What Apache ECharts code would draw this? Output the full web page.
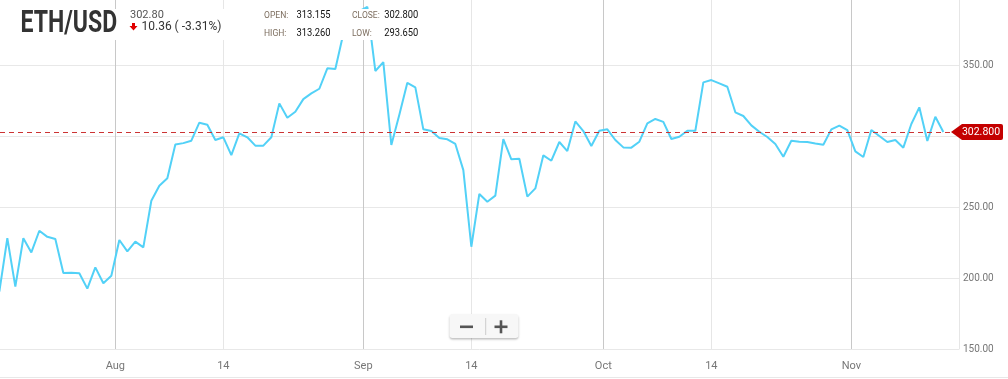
<!DOCTYPE html>
<html>
<head>
<meta charset="utf-8">
<title>ETH/USD</title>
<script src="https://cdn.jsdelivr.net/npm/echarts@6/dist/echarts.min.js"></script>
<style>
    html, body { margin: 0; padding: 0; background: #fff; }
    #myChart { width: 1008px; height: 379px; }
</style>
</head>
<body>
<div id="myChart"></div>
<script>
var DAY = 24 * 3600 * 1000;

// daily closes, first one is 2017-07-17
var firstDay = Date.UTC(2017, 6, 17, 12);
var closes = [
    190.4, 228, 193.9, 228, 218, 233.3, 229, 227.5, 203.5, 203.7,
    203.3, 192.5, 207.5, 196.3, 201.6, 226.8, 218.8, 225.6, 221.6, 254.4,
    265, 270.2, 294, 295, 296.7, 309.4, 308, 297.2, 299.1, 286.6,
    301.9, 299.1, 293.2, 293.2, 299.1, 323, 312.9, 317.1, 326, 330,
    333.3, 347.7, 347.2, 372, 383, 388, 391, 345.8, 352, 293.7,
    315, 337.5, 334.3, 304.7, 303.5, 298.6, 297.7, 294.4, 276, 222,
    259.2, 253.7, 258, 297.8, 283.6, 284, 257.3, 263.1, 286.4, 282.6,
    295.8, 289.4, 310.3, 303.5, 293, 303.7, 304.7, 297.2, 292, 291.8,
    296, 308.9, 312, 310, 297.9, 299.5, 303.7, 303.7, 337.8, 339.4,
    337.1, 334.7, 316.7, 314.1, 307.5, 303, 299.3, 294.4, 285.4, 296.7,
    296, 295.8, 294.8, 293.9, 304.7, 307.3, 304.2, 289.2, 285.2, 304.2,
    300, 295.8, 297.2, 291.8, 308.5, 320.2, 296.5, 313.6, 302.8
];

// x ticks: month starts and the 14ths
var xTicks = [
    Date.UTC(2017, 7, 1), Date.UTC(2017, 7, 14, 12),
    Date.UTC(2017, 8, 1), Date.UTC(2017, 8, 14, 12),
    Date.UTC(2017, 9, 1), Date.UTC(2017, 9, 14, 12),
    Date.UTC(2017, 10, 1)
];
var monthNames = ['Jan', 'Feb', 'Mar', 'Apr', 'May', 'Jun', 'Jul', 'Aug', 'Sep', 'Oct', 'Nov', 'Dec'];
var xMin = Date.UTC(2017, 6, 17, 14);
var xMax = Date.UTC(2017, 10, 14, 11);

var yLabels = [150, 200, 250, 350];
var lastPrice = 302.8;

var quoteLast = '302.80';
var quoteChange = '10.36 ( -3.31%)';
var ohlcNames = ['OPEN:', 'HIGH:', 'CLOSE:', 'LOW:'];
var ohlcValues = ['313.155', '313.260', '302.800', '293.650'];

var seriesData = [];
for (var i = 0; i < closes.length; i++) {
    seriesData.push([firstDay + i * DAY, closes[i]]);
}

function txt(x, y, text, size, color, weight, sx) {
    return {
        type: 'text', x: x, y: y, scaleX: sx || 1, z: 110,
        style: {
            text: text, fontSize: size, fontFamily: 'Roboto', fontWeight: weight || 'normal',
            fill: color, align: 'left', verticalAlign: 'middle',
            textAlign: 'left', textVerticalAlign: 'middle'
        }
    };
}

var header = [
    // white panel behind the header texts
    { type: 'rect', z: 100, shape: { x: 0, y: 9, width: 458, height: 31 }, style: { fill: '#fff' } },
    txt(20.5, 24, 'ETH/USD', 32, '#333', 'bold', 0.72),
    txt(130, 15, quoteLast, 11, '#555'),
    {
        type: 'polygon', z: 110,
        shape: { points: [[132, 23], [135, 23], [135, 26], [137.5, 26], [133.5, 30.5], [129.5, 26], [132, 26]] },
        style: { fill: '#e00000' }
    },
    txt(141.5, 26.5, quoteChange, 12, '#333'),
    txt(264, 16, ohlcNames[0], 9.5, '#7d6e5f', 'normal', 0.9),
    txt(296.5, 15.5, ohlcValues[0], 11, '#111', 'normal', 0.85),
    txt(264, 33.5, ohlcNames[1], 9.5, '#7d6e5f', 'normal', 0.9),
    txt(296.5, 33, ohlcValues[1], 11, '#111', 'normal', 0.85),
    txt(352, 16, ohlcNames[2], 9.5, '#7d6e5f', 'normal', 0.9),
    txt(384.3, 15.5, ohlcValues[2], 11, '#111', 'normal', 0.85),
    txt(352, 33.5, ohlcNames[3], 9.5, '#7d6e5f', 'normal', 0.9),
    txt(384.3, 33, ohlcValues[3], 11, '#111', 'normal', 0.85),

    // zoom buttons
    {
        type: 'rect', z: 100,
        shape: { x: 449.5, y: 314, width: 69, height: 24, r: 3 },
        style: { fill: '#f7f7f7', shadowBlur: 2, shadowOffsetY: 1.5, shadowColor: 'rgba(0,0,0,0.25)' }
    },
    { type: 'rect', z: 110, shape: { x: 460, y: 325.5, width: 13, height: 2.6 }, style: { fill: '#555' } },
    { type: 'line', z: 110, shape: { x1: 485.7, y1: 318, x2: 485.7, y2: 335 }, style: { stroke: '#ccc', lineWidth: 1 } },
    { type: 'rect', z: 110, shape: { x: 494.5, y: 325.5, width: 13, height: 2.6 }, style: { fill: '#555' } },
    { type: 'rect', z: 110, shape: { x: 499.7, y: 320.3, width: 2.6, height: 13 }, style: { fill: '#555' } },

    { type: 'line', z: 90, shape: { x1: 0, y1: 377.5, x2: 1008, y2: 377.5 }, style: { stroke: '#e8e8e8', lineWidth: 1 } }
];

var myChart = echarts.init(document.getElementById('myChart'));

var option = {
    animation: false,
    grid: { left: 0, right: 49, top: 0, bottom: 30, outerBoundsMode: 'none' },
    xAxis: {
        type: 'value',
        min: xMin,
        max: xMax,
        axisLine: { show: false },
        axisTick: { show: false, customValues: xTicks },
        axisLabel: {
            customValues: xTicks,
            color: '#777',
            fontSize: 11,
            fontFamily: 'Roboto',
            margin: 12,
            formatter: function (v) {
                var d = new Date(v);
                return d.getUTCDate() === 1 ? monthNames[d.getUTCMonth()] : String(d.getUTCDate());
            }
        },
        splitLine: {
            show: true,
            lineStyle: { color: ['#c8c8c8', '#e6e6e6'], width: 1 }
        }
    },
    yAxis: {
        type: 'value',
        position: 'right',
        min: 150,
        max: 395.8,
        interval: 50,
        axisLine: { show: true, lineStyle: { color: '#e6e6e6' } },
        axisTick: { show: false },
        axisLabel: {
            color: '#777',
            fontSize: 10,
            fontFamily: 'Roboto',
            margin: 4,
            formatter: function (v) {
                return yLabels.indexOf(v) >= 0 ? v.toFixed(2) : '';
            }
        },
        splitLine: { show: true, showMaxLine: false, lineStyle: { color: '#e8e8e8' } }
    },
    graphic: header,
    series: [
        {
            type: 'line',
            data: seriesData,
            symbol: 'none',
            clip: true,
            lineStyle: { color: '#52d1f7', width: 2 },
            markLine: {
                silent: true,
                symbol: 'none',
                label: { show: false },
                lineStyle: { color: '#c33', type: [5, 4], width: 1 },
                data: [{ yAxis: lastPrice }]
            },
            markPoint: {
                silent: true,
                symbol: 'path://M0,8 L11,0 L50,0 Q52,0 52,2 L52,14 Q52,16 50,16 L11,16 Z',
                symbolSize: [52, 16],
                symbolOffset: [18, 0],
                itemStyle: { color: '#c40000' },
                label: {
                    show: true,
                    position: 'inside',
                    offset: [4, 0],
                    color: '#fff',
                    fontSize: 10.5,
                    fontFamily: 'Roboto',
                    formatter: lastPrice.toFixed(3)
                },
                data: [{ coord: [xMax, lastPrice] }]
            }
        }
    ]
};

myChart.setOption(option);
</script>
</body>
</html>
